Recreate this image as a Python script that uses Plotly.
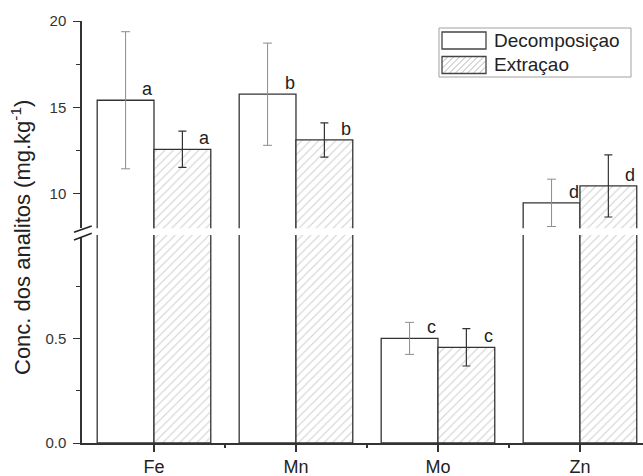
import plotly.graph_objects as go

# ---- data ----
categories = ["Fe", "Mn", "Mo", "Zn"]
decomp = [15.41, 15.76, 0.503, 9.47]
decomp_err = [3.97, 2.96, 0.077, 1.37]
extr = [12.57, 13.11, 0.46, 10.45]
extr_err = [1.05, 0.99, 0.09, 1.80]
letters_decomp = ["a", "b", "c", "d"]
letters_extr = ["a", "b", "c", "d"]
series_names = ["Decomposiçao", "Extraçao"]
lower_ticks = [0, 0.5]
lower_ticktext = ["0.0", "0.5"]
lower_minor = [0.25, 0.75]
upper_ticks = [10, 15, 20]
upper_minor = [12.5, 17.5]
lower_range = [0, 1]
upper_range = [8, 20]

xs = list(range(len(categories)))
EDGE = "#333333"
HATCH = "#a0a0a0"

# plot-area geometry in pixels (for paper-coordinate decorations)
W, H = 643, 476
ML, MR, MT, MB = 82, 0, 21, 33
PW, PH = W - ML - MR, H - MT - MB


def px(x):
    return (x - ML) / PW


def py(y):
    return (H - MB - y) / PH


fig = go.Figure()
for ax in ["y", "y2"]:
    fig.add_trace(go.Bar(
        x=xs, y=decomp, name=series_names[0], yaxis=ax, showlegend=False,
        marker=dict(color="white", line=dict(color=EDGE, width=1.3)),
        error_y=dict(type="data", array=decomp_err, color="#8c8c8c",
                     thickness=1, width=4.5),
    ))
    fig.add_trace(go.Bar(
        x=xs, y=extr, name=series_names[1], yaxis=ax, showlegend=False,
        marker=dict(color="white", line=dict(color=EDGE, width=1.3),
                    pattern=dict(shape="/", fgcolor=HATCH, bgcolor="white",
                                 size=6, solidity=0.18)),
        error_y=dict(type="data", array=extr_err, color="#333333",
                     thickness=1.2, width=4),
    ))

annotations = []
for i, (v, t) in enumerate(zip(decomp, letters_decomp)):
    annotations.append(dict(x=xs[i] - 0.045, y=v, xref="x",
                            yref="y2" if v > lower_range[1] else "y",
                            text=t, showarrow=False, yanchor="bottom",
                            yshift=-1, font=dict(size=18, color="#222")))
for i, (v, t) in enumerate(zip(extr, letters_extr)):
    annotations.append(dict(x=xs[i] + 0.355, y=v, xref="x",
                            yref="y2" if v > lower_range[1] else "y",
                            text=t, showarrow=False, yanchor="bottom",
                            yshift=-1, font=dict(size=18, color="#222")))
annotations.append(dict(x=px(21), y=py(238), xref="paper", yref="paper",
                        xanchor="center", yanchor="middle",
                        text="Conc. dos analitos (mg.kg<sup>-1</sup>)",
                        textangle=-90, showarrow=False,
                        font=dict(size=22, color="#222")))

shapes = [
    # axis break marks
    dict(type="path", xref="paper", yref="paper",
         path=f"M {px(74)},{py(232.3)} L {px(91.7)},{py(226)} L {px(91.7)},{py(233.3)} L {px(74)},{py(240)} Z",
         fillcolor="white", line=dict(width=0), layer="above"),
    dict(type="line", xref="paper", yref="paper", x0=px(74), y0=py(232.3),
         x1=px(91.7), y1=py(226), line=dict(color="#222", width=1.6)),
    dict(type="line", xref="paper", yref="paper", x0=px(74), y0=py(240),
         x1=px(91.7), y1=py(233.3), line=dict(color="#222", width=1.6)),
]

# ---- legend (drawn manually to match the large swatches) ----
LX0, LY0, LX1, LY1 = 439, 28, 631, 77
shapes.append(dict(type="rect", xref="paper", yref="paper",
                   x0=px(LX0), y0=py(LY1), x1=px(LX1), y1=py(LY0),
                   fillcolor="white", line=dict(color="#a0a0a0", width=1),
                   layer="above"))
sw_x0, sw_x1 = 442, 486
rows = [(32, 49), (56.5, 73.5)]
ty, by = rows[1]
hatch_path = []
c = sw_x0 - (by - ty)
while c < sw_x1:
    ya, yb = by, ty
    xa, xb = c, c + (by - ty)
    if xa < sw_x0:
        ya = by - (sw_x0 - c)
        xa = sw_x0
    if xb > sw_x1:
        yb = by - (sw_x1 - c)
        xb = sw_x1
    if xb > xa:
        hatch_path.append(f"M {px(xa)},{py(ya)} L {px(xb)},{py(yb)}")
    c += 6
shapes.append(dict(type="path", xref="paper", yref="paper",
                   path=" ".join(hatch_path), line=dict(color=HATCH, width=0.8),
                   layer="above"))
for (t0, t1) in rows:
    shapes.append(dict(type="rect", xref="paper", yref="paper",
                       x0=px(sw_x0), y0=py(t1), x1=px(sw_x1), y1=py(t0),
                       line=dict(color="#444", width=1.3), layer="above"))
for name, (t0, t1) in zip(series_names, rows):
    annotations.append(dict(x=px(492), y=py((t0 + t1) / 2), xref="paper",
                            yref="paper", xanchor="left", yanchor="middle",
                            text=name, showarrow=False,
                            font=dict(size=19, color="#222")))

axis_common = dict(showline=True, linecolor=EDGE, linewidth=1.5, ticks="outside",
                   ticklen=7, tickwidth=1.2, tickcolor=EDGE, showgrid=False,
                   zeroline=False, ticklabelstandoff=4, automargin=False,
                   tickfont=dict(family="Liberation Sans, Arial", size=15, color="#333"))

fig.update_layout(
    width=W, height=H,
    margin=dict(l=ML, r=MR, t=MT, b=MB, autoexpand=False),
    plot_bgcolor="white", paper_bgcolor="white",
    barmode="group", bargap=0.2, bargroupgap=0,
    showlegend=False,
    font=dict(family="Liberation Sans, Arial", color="#222"),
    xaxis=dict(range=[-0.507, 3.444], tickmode="array", tickvals=xs,
               ticktext=categories, anchor="y", automargin=False,
               showline=True, linecolor=EDGE, linewidth=1.5, ticks="outside",
               ticklen=7, tickwidth=1.5, tickcolor=EDGE, showgrid=False,
               zeroline=False, ticklabelstandoff=0,
               tickfont=dict(family="Liberation Sans, Arial", size=18, color="#222"),
               minor=dict(tickmode="array", tickvals=[0.5, 1.5, 2.5],
                          ticks="outside", ticklen=3, tickcolor=EDGE, tickwidth=1.5)),
    yaxis=dict(domain=[0, 0.493], range=lower_range, tickmode="array",
               tickvals=lower_ticks, ticktext=lower_ticktext, anchor="x",
               minor=dict(tickmode="array", tickvals=lower_minor, ticks="outside",
                          ticklen=4, tickcolor=EDGE),
               **axis_common),
    yaxis2=dict(domain=[0.509, 1], range=upper_range, tickmode="array",
                tickvals=upper_ticks, anchor="x",
                minor=dict(tickmode="array", tickvals=upper_minor, ticks="outside",
                           ticklen=4, tickcolor=EDGE),
                **axis_common),
    annotations=annotations,
    shapes=shapes,
)

fig.write_html("out.html", config={"displayModeBar": False},
               post_script="document.body.style.margin='0';")
